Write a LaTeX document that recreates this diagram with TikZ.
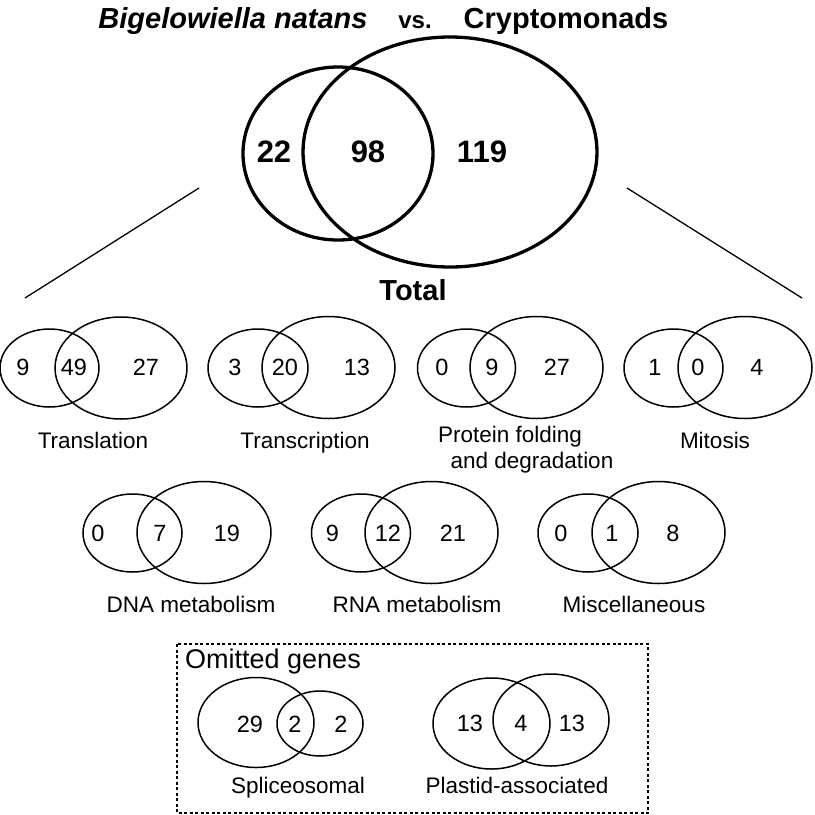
\documentclass[tikz,border=0pt]{standalone}
\usepackage{fontspec}
\setmainfont{Liberation Sans}
\begin{document}
\begin{tikzpicture}[x=1pt,y=-1pt,
  bigc/.style={line width=3.3pt},
  venc/.style={line width=1.5pt},
  num/.style={font=\fontsize{23.5}{27}\selectfont, inner sep=0pt},
  lab/.style={font=\fontsize{22.5}{27}\selectfont, inner sep=0pt, anchor=base},
  bnum/.style={font=\bfseries\fontsize{31}{36}\selectfont, inner sep=0pt},
  ttl/.style={font=\bfseries\fontsize{29}{34}\selectfont, inner sep=0pt, anchor=base},
  fan/.style={line width=1.3pt},
  omit/.style={line width=1.3pt, dash pattern=on 3pt off 2.5pt}
  ]
\useasboundingbox (0,0) rectangle (815,815);

% title
\node[ttl, font=\bfseries\itshape\fontsize{29}{34}\selectfont] (bn) at (233,28) {Bigelowiella natans};
\node[ttl, font=\bfseries\fontsize{24}{28}\selectfont] (vs) at (415,28) {vs.};
\node[ttl] (cr) at (566,28) {Cryptomonads};

% total Venn
\draw[bigc] (338,153.5) ellipse [x radius=95, y radius=86.5];
\draw[bigc] (450,152) ellipse [x radius=147, y radius=115];
\node[bnum] (t22) at (274,152) {22};
\node[bnum] (t98) at (368,152) {98};
\node[bnum] (t119) at (482,152) {119};
\node[ttl] (total) at (413,300) {Total};

% fan lines
\coordinate (la) at (199,188);
\coordinate (lb) at (25,298);
\coordinate (ra) at (627,188);
\coordinate (rb) at (802,298);
\draw[fan] (la) -- (lb);
\draw[fan] (ra) -- (rb);

% row 1
\draw[venc] (49.5,368) ellipse [x radius=49.5, y radius=39];
\draw[venc] (121,368) ellipse [x radius=66, y radius=51];
\node[num] (a1) at (23,367) {9};
\node[num] (a2) at (74,367) {49};
\node[num] (a3) at (146,367) {27};
\node[lab] (al) at (93,448) {Translation};

\draw[venc] (258,368) ellipse [x radius=50, y radius=39];
\draw[venc] (328.5,367.5) ellipse [x radius=66.5, y radius=51];
\node[num] (b1) at (235,367) {3};
\node[num] (b2) at (285,367) {20};
\node[num] (b3) at (357,367) {13};
\node[lab] (bl) at (305,448) {Transcription};

\draw[venc] (466.5,368) ellipse [x radius=49, y radius=39];
\draw[venc] (536.5,367.5) ellipse [x radius=66.5, y radius=51];
\node[num] (c1) at (442,367) {0};
\node[num] (c2) at (492,367) {9};
\node[num] (c3) at (557,367) {27};
\node[lab] (cl1) at (510,442) {Protein folding};
\node[lab] (cl2) at (532,468) {and degradation};

\draw[venc] (673.5,368) ellipse [x radius=49.5, y radius=39];
\draw[venc] (745,367.5) ellipse [x radius=67, y radius=51];
\node[num] (d1) at (655,367) {1};
\node[num] (d2) at (698,367) {0};
\node[num] (d3) at (757,367) {4};
\node[lab] (dl) at (715,448) {Mitosis};

% row 2
\draw[venc] (132.5,533) ellipse [x radius=49.5, y radius=39];
\draw[venc] (204,532.5) ellipse [x radius=67, y radius=51];
\node[num] (e1) at (98,533) {0};
\node[num] (e2) at (160,533) {7};
\node[num] (e3) at (227,533) {19};
\node[lab] (el) at (191,612) {DNA metabolism};

\draw[venc] (361,533) ellipse [x radius=49.5, y radius=39];
\draw[venc] (431.5,532.5) ellipse [x radius=66.5, y radius=51];
\node[num] (f1) at (332.5,533) {9};
\node[num] (f2) at (388,533) {12};
\node[num] (f3) at (453,533) {21};
\node[lab] (fl) at (417,612) {RNA metabolism};

\draw[venc] (588,533) ellipse [x radius=50, y radius=39];
\draw[venc] (658.5,532.5) ellipse [x radius=66.5, y radius=51];
\node[num] (g1) at (561,533) {0};
\node[num] (g2) at (612,533) {1};
\node[num] (g3) at (673,533) {8};
\node[lab] (gl) at (634,612) {Miscellaneous};

% omitted genes
\draw[omit] (177,644) rectangle (648,813);
\node[font=\fontsize{27}{32}\selectfont, inner sep=0pt, anchor=base west] (om) at (185,668) {Omitted genes};

\draw[venc] (256,722.5) ellipse [x radius=58, y radius=45];
\draw[venc] (320,723.5) ellipse [x radius=43, y radius=32.5];
\node[num] (h1) at (250,724) {29};
\node[num] (h2) at (295,724) {2};
\node[num] (h3) at (341,724) {2};
\node[lab] (hl) at (298,793) {Spliceosomal};

\draw[venc] (491.5,723.5) ellipse [x radius=58.5, y radius=45.5];
\draw[venc] (551,720) ellipse [x radius=58, y radius=46];
\node[num] (i1) at (470,723) {13};
\node[num] (i2) at (521,723) {4};
\node[num] (i3) at (572,723) {13};
\node[lab] (il) at (517,793) {Plastid-associated};
\end{tikzpicture}
\end{document}
